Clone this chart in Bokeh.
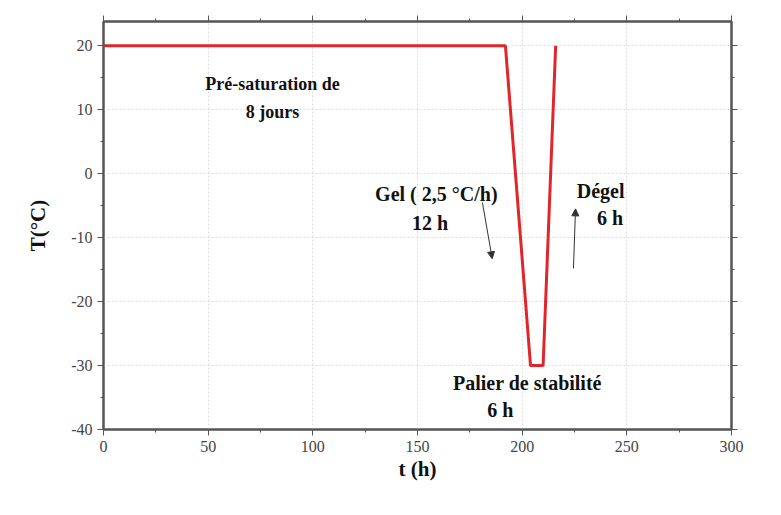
from bokeh.plotting import figure
from bokeh.models import LinearAxis, Range1d, Arrow, NormalHead, FixedTicker
from bokeh.core.properties import value
from bokeh.embed import file_html
from bokeh.resources import INLINE

# data
t_hours = [0, 192, 204, 210, 216]
temp_c = [20, 20, -30, -30, 20]
x_ticks = [0, 50, 100, 150, 200, 250, 300]
y_ticks = [-40, -30, -20, -10, 0, 10, 20]

pre_x = [80.7, 80.7]
pre_y = [14.1, 9.6]
pre_txt = ["Pré-saturation de", "8 jours"]

gel_x = [159.0, 156.0, 237.5, 242.0]
gel_y = [-3.1, -7.7, -2.7, -7.0]
gel_txt = ["Gel ( 2,5 °C/h)", "12 h", "Dégel", "6 h"]

pal_x = [202.5, 189.5]
pal_y = [-32.7, -37.0]
pal_txt = ["Palier de stabilité", "6 h"]

arrow_gel = (181, -4.5, 185.7, -13.3)
arrow_degel = (224.5, -14.8, 225.5, -5.5)

FONT = "Times New Roman"

p = figure(width=773, height=507, output_backend="svg", toolbar_location=None,
           x_range=Range1d(0, 300), y_range=Range1d(-40, 23.8),
           min_border_left=103, min_border_right=42, min_border_top=21, min_border_bottom=78)
p.outline_line_color = "#555555"
p.outline_line_width = 2

for ax in (p.xaxis[0], p.yaxis[0]):
    ax.axis_line_color = "#555555"
    ax.axis_line_width = 2
    ax.major_tick_line_color = "#555555"
    ax.minor_tick_line_color = "#555555"
    ax.major_tick_out = 6
    ax.major_tick_in = 0
    ax.minor_tick_out = 3
    ax.minor_tick_in = 0
    ax.major_label_text_font = FONT
    ax.major_label_text_font_size = "16px"
    ax.major_label_text_color = "#444444"
    ax.axis_label_text_font = FONT
    ax.axis_label_text_font_style = "bold"
    ax.axis_label_text_font_size = "21px"
    ax.axis_label_text_color = "#111111"

p.xaxis.ticker = FixedTicker(ticks=x_ticks, minor_ticks=list(range(0, 301, 25)))
p.yaxis.ticker = FixedTicker(ticks=y_ticks, minor_ticks=list(range(-40, 24, 5)))
p.yaxis.major_label_overrides = {v: str(v) for v in y_ticks}
p.xaxis.axis_label = "t (h)"
p.yaxis.axis_label = "T(°C)"
p.xaxis.axis_label_standoff = 2
p.yaxis.axis_label_standoff = 18

for loc in ("above", "right"):
    ticks = x_ticks if loc == "above" else y_ticks
    minor = list(range(0, 301, 25)) if loc == "above" else list(range(-40, 24, 5))
    ax = LinearAxis(axis_line_color="#555555", axis_line_width=2,
                    major_tick_line_color="#555555", minor_tick_line_color="#555555",
                    major_tick_out=6, major_tick_in=0, minor_tick_out=3, minor_tick_in=0,
                    ticker=FixedTicker(ticks=ticks, minor_ticks=minor),
                    major_label_overrides={v: "" for v in ticks})
    p.add_layout(ax, loc)

p.grid.grid_line_color = "#dddddd"
p.grid.grid_line_dash = "2 2"
p.xgrid.ticker = FixedTicker(ticks=x_ticks)
p.ygrid.ticker = FixedTicker(ticks=y_ticks)

p.line(t_hours, temp_c, line_color="#e0262b", line_width=3)

for xs, ys, txt, size in ((pre_x, pre_y, pre_txt, "18px"),
                          (gel_x, gel_y, gel_txt, "20px"),
                          (pal_x, pal_y, pal_txt, "20px")):
    p.text(xs, ys, text=txt, text_font=value(FONT),
           text_font_style="bold", text_font_size=size, text_align="center",
           text_baseline="middle", text_color="#111111")

for (x0, y0, x1, y1) in (arrow_gel, arrow_degel):
    p.add_layout(Arrow(end=NormalHead(size=7, fill_color="#333333", line_color="#333333"),
                       x_start=x0, y_start=y0, x_end=x1, y_end=y1,
                       line_color="#333333", line_width=1))

open("out.html", "w").write(file_html(p, INLINE))
